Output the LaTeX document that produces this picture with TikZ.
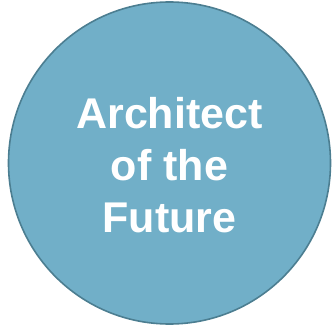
\documentclass[tikz,border=0pt]{standalone}
\usepackage{fontspec}
\setmainfont{Liberation Sans}
\definecolor{circfill}{RGB}{113,175,200}
\definecolor{circline}{RGB}{76,126,145}
\begin{document}
\begin{tikzpicture}[x=1pt,y=1pt,
  bigcircle/.style={circle,draw=circline,fill=circfill,line width=1.6pt,minimum size=322pt,inner sep=0pt},
  label/.style={text=white,font=\fontsize{43}{52}\selectfont\bfseries,align=center,inner sep=0pt}]
\useasboundingbox (0,0) rectangle (333,325);
\node[bigcircle] (c) at (169.5,162) {};
\node[label] (t) at (169.5,159.5) {Architect\\of the\\Future};
\end{tikzpicture}
\end{document}
